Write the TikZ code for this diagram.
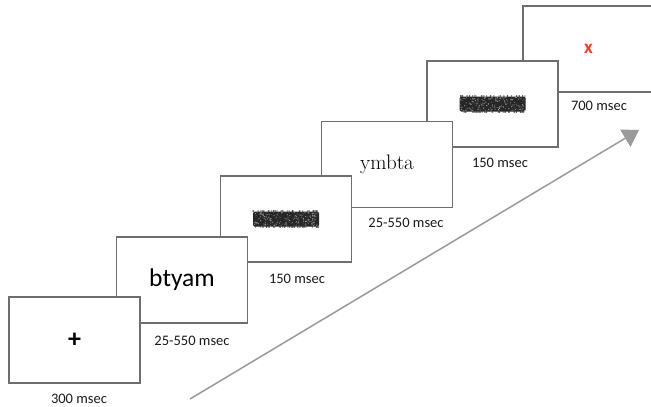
\documentclass[tikz,border=0pt]{standalone}
\usepackage{fontspec}
\newfontfamily\calfont{Carlito}
\usetikzlibrary{arrows.meta}
\definecolor{framegray}{HTML}{6E6E6E}
\definecolor{arrowgray}{HTML}{9A9A9A}
\definecolor{xred}{HTML}{E8412C}
\tikzset{
  frame/.style={draw=framegray, fill=white, line width=1.2pt, minimum width=131pt, minimum height=86pt, inner sep=0pt, outer sep=0pt},
  durlabel/.style={font=\calfont\fontsize{14.5}{16}\selectfont, text=black!90, inner sep=0pt},
  timeline/.style={draw=arrowgray, line width=1.5pt, -{Triangle[length=16pt,width=20pt]}},
}
\newcommand\noisebar[1]{%
  \begin{scope}[shift={(#1)}]
    \fill[black!85, rounded corners=1.5pt] (-33,-7.5) rectangle (33,7.5);
    \foreach \k in {1,...,260}{%
      \pgfmathsetmacro\rx{rnd*64-32}%
      \pgfmathsetmacro\ry{rnd*14-7}%
      \pgfmathsetmacro\gg{rnd*55+30}%
      \fill[black!\gg] (\rx,\ry) circle (0.6pt);
    }
    \foreach \k in {1,...,70}{%
      \pgfmathsetmacro\rx{rnd*66-33}%
      \pgfmathsetmacro\ry{(rnd<0.5 ? -8 : 8)}%
      \fill[black!80] (\rx,\ry) circle (0.7pt);
    }
  \end{scope}}
\begin{document}
\begin{tikzpicture}[x=1pt, y=-1pt]
\pgfmathsetseed{17}
\useasboundingbox (0,0) rectangle (651,407);
% frames, last one first so earlier frames lie on top
\node[frame] (f6) at (588.5,49) {\calfont\fontsize{19}{19}\selectfont\textcolor{xred}{\bfseries x}};
\node[frame] (f5) at (492.5,104) {};
\node[frame] (f4) at (387,164.5) {\fontsize{21}{21}\selectfont ymbta};
\node[frame] (f3) at (286,219) {};
\node[frame] (f2) at (182,280) {\calfont\fontsize{25.5}{26}\selectfont btyam};
\node[frame] (f1) at (74.5,340) {\calfont\fontsize{26}{26}\selectfont\bfseries +};
% noise masks
\noisebar{f3.center}
\noisebar{f5.center}
% durations
\node[durlabel] (l1) at (79,399) {300 msec};
\node[durlabel] (l2) at (192,341) {25-550 msec};
\node[durlabel] (l3) at (297,279) {150 msec};
\node[durlabel] (l4) at (406,223) {25-550 msec};
\node[durlabel] (l5) at (500,163) {150 msec};
\node[durlabel] (l6) at (599,106) {700 msec};
% time arrow
\coordinate (as) at (190,399);
\coordinate (ae) at (639,130);
\draw[timeline] (as) -- (ae);
\end{tikzpicture}
\end{document}
